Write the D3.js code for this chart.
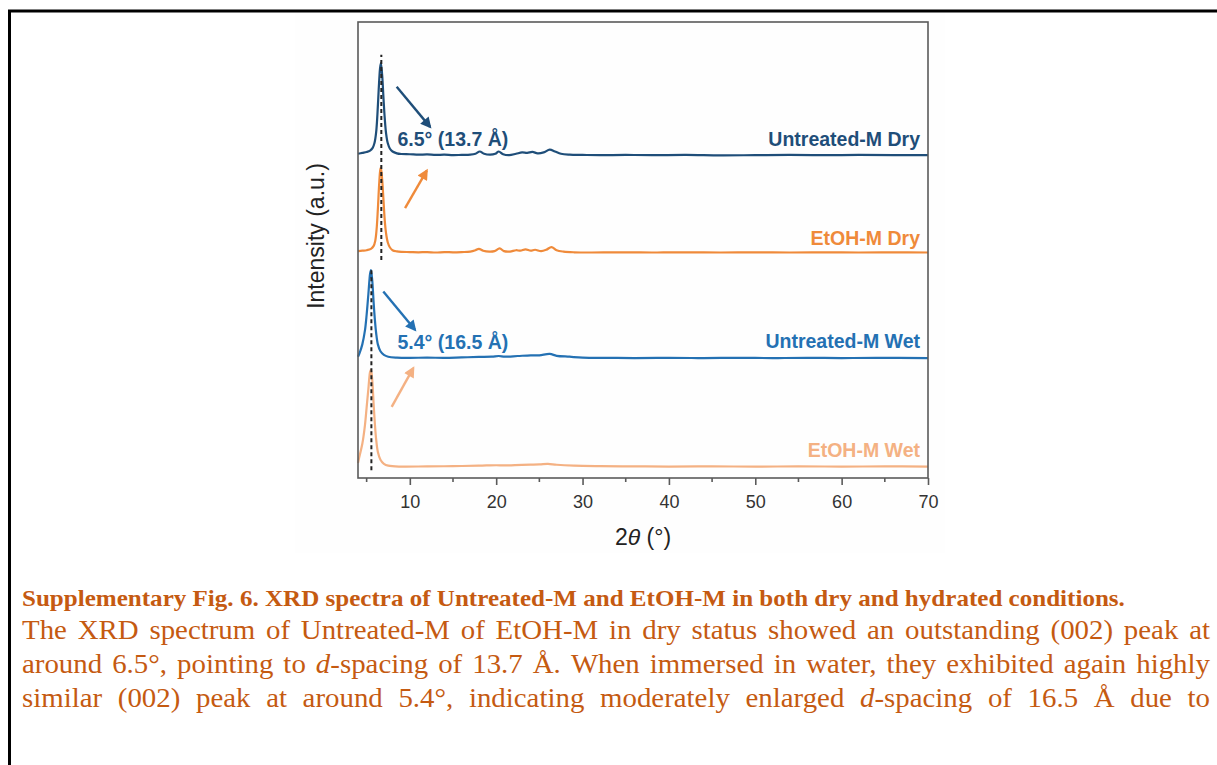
<!DOCTYPE html>
<html>
<head>
<meta charset="utf-8">
<script src="https://cdn.jsdelivr.net/npm/d3@7"></script>
<style>
  html, body { margin: 0; padding: 0; background: #fff; }
  svg { display: block; }
</style>
</head>
<body>
<script>
// 2theta (deg) vs intensity above each trace's own baseline (a.u.)
const untreatedDry = [[4.0,0.3],[4.5,0.5],[5.0,0.7],[5.4,1.0],[5.7,1.6],[5.9,2.6],[6.1,5.0],[6.25,9.0],[6.4,14.5],[6.55,19.0],[6.65,20.2],[6.8,17.5],[6.95,12.5],[7.1,8.0],[7.25,4.8],[7.45,2.6],[7.7,1.4],[8.0,0.8],[8.5,0.4],[9,0.25],[10,0.2],[11,0.1],[12,0.15],[13,0.05],[14,0.1],[15,0.0],[16,0.05],[17,0.1],[17.6,0.3],[18.1,0.8],[18.6,0.3],[19.3,0.1],[19.9,0.3],[20.3,0.8],[20.8,0.2],[21.5,0.0],[22.3,0.3],[23.0,0.6],[23.6,0.5],[24.2,0.7],[24.8,0.4],[25.5,0.6],[26.2,1.2],[26.8,0.8],[27.5,0.3],[28.5,0.1],[30,0.05],[32,0.0],[35,0.05],[38,0.0],[42,0.05],[46,-0.05],[50,0.0],[54,0.05],[58,0.0],[62,0.05],[66,0.0],[70,0.0]];
const etohDry = [[4.0,0.3],[4.5,0.4],[5.0,0.5],[5.5,0.8],[5.8,1.4],[6.0,2.6],[6.15,5.0],[6.3,9.5],[6.45,15.0],[6.57,18.0],[6.65,18.6],[6.8,16.0],[6.95,11.5],[7.1,7.0],[7.25,4.2],[7.45,2.2],[7.7,1.1],[8.0,0.5],[8.5,0.25],[9,0.15],[10,0.1],[11,0.05],[12,0.1],[13,0.0],[14,0.1],[15,0.05],[16,0.1],[17,0.2],[17.6,0.5],[18.0,0.8],[18.5,0.4],[19.2,0.2],[19.8,0.3],[20.4,0.9],[20.9,0.3],[21.6,0.2],[22.3,0.5],[22.8,0.4],[23.4,0.7],[24.0,0.4],[24.5,0.6],[25.2,0.3],[25.8,0.6],[26.4,1.2],[27,0.5],[27.8,0.2],[29,0.05],[31,0.0],[34,0.05],[38,0.0],[42,0.05],[46,0.0],[50,0.05],[54,0.0],[58,0.05],[62,0.0],[66,0.05],[70,0.0]];
const untreatedWet = [[4.0,0.3],[4.2,1.2],[4.5,3.0],[4.8,6.0],[5.0,9.5],[5.2,14.0],[5.4,18.5],[5.5,19.3],[5.65,17.0],[5.8,12.5],[5.95,8.5],[6.1,5.5],[6.3,3.0],[6.6,1.5],[7.0,0.7],[7.5,0.3],[8.5,0.1],[10,0.05],[12,0.1],[14,0.05],[16,0.15],[18,0.25],[19.5,0.3],[20.3,0.45],[21,0.3],[22.5,0.45],[24,0.6],[25,0.6],[26.2,0.9],[27,0.5],[28.5,0.3],[30,0.1],[33,0.05],[36,0.0],[40,0.05],[44,0.0],[48,0.05],[52,0.0],[56,0.05],[60,0.0],[64,0.05],[70,0.0]];
const etohWet = [[4.0,0.8],[4.2,2.5],[4.5,5.0],[4.8,9.0],[5.0,13.0],[5.2,17.0],[5.4,20.8],[5.5,21.2],[5.65,19.0],[5.8,14.0],[5.95,9.5],[6.1,6.0],[6.3,3.2],[6.6,1.5],[7.0,0.6],[7.5,0.2],[9,0.0],[12,0.05],[15,0.1],[18,0.2],[20,0.3],[21,0.25],[23,0.4],[25,0.5],[26,0.6],[27,0.4],[29,0.2],[32,0.1],[36,0.05],[40,0.0],[45,0.05],[50,0.0],[55,0.05],[60,0.0],[65,0.05],[70,0.0]];

const seriesNames = ["Untreated-M Dry", "EtOH-M Dry", "Untreated-M Wet", "EtOH-M Wet"];
const seriesOffsets = [70.8, 49.45, 26.3, 2.5];
const seriesColors = ["#1f4e79", "#ef8a3a", "#2471b3", "#f4b183"];

const xTicks = [10, 20, 30, 40, 50, 60, 70];
const xMinorTicks = [5, 15, 25, 35, 45, 55, 65];

// peak markers: dashed guide lines [2theta, from, to]
const guides = [[6.7, 47.8, 92.8], [5.55, 1.7, 45.6]];
// arrows [x1, y1, x2, y2, color index]
const arrows = [[8.48, 85.8, 12.34, 77.0, 0], [9.45, 59.2, 11.96, 67.4, 1], [6.93, 40.9, 10.6, 32.5, 2], [7.9, 15.6, 10.4, 24.1, 3]];
const peakLabels = [["6.5° (13.7 Å)", 0], ["5.4° (16.5 Å)", 2]];

const captionTitle = "Supplementary Fig. 6. XRD spectra of Untreated-M and EtOH-M in both dry and hydrated conditions.";
const captionLines = [
  "The XRD spectrum of Untreated-M of EtOH-M in dry status showed an outstanding (002) peak at",
  "around 6.5°, pointing to _d_-spacing of 13.7 Å. When immersed in water, they exhibited again highly",
  "similar (002) peak at around 5.4°, indicating moderately enlarged _d_-spacing of 16.5 Å due to"
];

const width = 1217, height = 765;
const svg = d3.select("body").append("svg")
  .attr("width", width)
  .attr("height", height);

// page frame
svg.append("rect").attr("x", 0).attr("y", 0).attr("width", width).attr("height", height).attr("fill", "#fff");
svg.append("rect")
  .attr("x", 295).attr("y", 12).attr("width", 650).attr("height", 541)
  .attr("fill", "#fefefe");
svg.append("path")
  .attr("d", `M${width},11 L9.5,11 L9.5,${height}`)
  .attr("fill", "none").attr("stroke", "#000").attr("stroke-width", 3);

const plot = {left: 358, right: 928, top: 22, bottom: 478};
const x = d3.scaleLinear().domain([4, 70]).range([plot.left, plot.right]);
const y = d3.scaleLinear().domain([0, 100]).range([plot.bottom, plot.top]);

const defs = svg.append("defs");
seriesColors.forEach((c, i) => {
  defs.append("marker")
    .attr("id", "head" + i)
    .attr("viewBox", "0 0 10 10")
    .attr("refX", 8).attr("refY", 5)
    .attr("markerWidth", 13).attr("markerHeight", 11)
    .attr("markerUnits", "userSpaceOnUse")
    .attr("orient", "auto")
    .append("path")
      .attr("d", "M0,0 L10,5 L0,10 Z")
      .attr("fill", c);
});

const g = svg.append("g");

// traces
const allSeries = [untreatedDry, etohDry, untreatedWet, etohWet];
allSeries.forEach((s, i) => {
  const line = d3.line()
    .x(d => x(d[0]))
    .y(d => y(d[1] + seriesOffsets[i]))
    .curve(d3.curveCatmullRom.alpha(0.5));
  g.append("path")
    .datum(s)
    .attr("fill", "none")
    .attr("stroke", seriesColors[i])
    .attr("stroke-width", 2.2)
    .attr("stroke-linejoin", "round")
    .attr("d", line);
});

// dashed guide lines
g.selectAll(".guide")
  .data(guides)
  .join("line")
    .attr("x1", d => x(d[0])).attr("x2", d => x(d[0]))
    .attr("y1", d => y(d[1])).attr("y2", d => y(d[2]))
    .attr("stroke", "#222")
    .attr("stroke-width", 2)
    .attr("stroke-dasharray", "4,3");

// arrows
g.selectAll(".arrow")
  .data(arrows)
  .join("line")
    .attr("x1", d => x(d[0])).attr("y1", d => y(d[1]))
    .attr("x2", d => x(d[2])).attr("y2", d => y(d[3]))
    .attr("stroke", d => seriesColors[d[4]])
    .attr("stroke-width", 2.4)
    .attr("marker-end", d => `url(#head${d[4]})`);

// peak labels
g.selectAll(".peak")
  .data(peakLabels)
  .join("text")
    .attr("x", 397.5)
    .attr("y", d => d[1] === 0 ? 146 : 349)
    .attr("font-family", "Liberation Sans, Arial, sans-serif")
    .attr("font-weight", "bold")
    .attr("font-size", 19.5)
    .attr("fill", d => seriesColors[d[1]])
    .text(d => d[0]);

// series labels
const labelBaselines = [146, 245, 348, 457];
g.selectAll(".slabel")
  .data(seriesNames)
  .join("text")
    .attr("x", 920)
    .attr("y", (d, i) => labelBaselines[i])
    .attr("text-anchor", "end")
    .attr("font-family", "Liberation Sans, Arial, sans-serif")
    .attr("font-weight", "bold")
    .attr("font-size", 19.5)
    .attr("fill", (d, i) => seriesColors[i])
    .text(d => d);

// frame
g.append("rect")
  .attr("x", plot.left).attr("y", plot.top)
  .attr("width", plot.right - plot.left).attr("height", plot.bottom - plot.top)
  .attr("fill", "none").attr("stroke", "#5a5a5a").attr("stroke-width", 1.6);

// x axis
const xAxis = g.append("g")
  .attr("transform", `translate(0,${plot.bottom})`)
  .call(d3.axisBottom(x).tickValues(xTicks).tickSize(7).tickPadding(10).tickFormat(d3.format("d")));
xAxis.select(".domain").remove();
xAxis.selectAll("line").attr("stroke", "#5a5a5a").attr("stroke-width", 1.6);
xAxis.selectAll("text")
  .attr("font-family", "Liberation Sans, Arial, sans-serif")
  .attr("font-size", 18)
  .attr("fill", "#333");
g.append("g")
  .attr("transform", `translate(0,${plot.bottom})`)
  .selectAll("line")
  .data(xMinorTicks)
  .join("line")
    .attr("x1", d => x(d)).attr("x2", d => x(d))
    .attr("y1", 0).attr("y2", 4)
    .attr("stroke", "#5a5a5a").attr("stroke-width", 1.6);

// axis titles
const xt = g.append("text")
  .attr("x", 643).attr("y", 545)
  .attr("text-anchor", "middle")
  .attr("font-family", "Liberation Sans, Arial, sans-serif")
  .attr("font-size", 23)
  .attr("fill", "#222");
xt.append("tspan").text("2");
xt.append("tspan").attr("font-style", "italic").text("θ");
xt.append("tspan").text(" (°)");

g.append("text")
  .attr("transform", "translate(324,236) rotate(-90)")
  .attr("text-anchor", "middle")
  .attr("font-family", "Liberation Sans, Arial, sans-serif")
  .attr("font-size", 23)
  .attr("fill", "#222")
  .text("Intensity (a.u.)");

// caption (the source page is slightly stretched horizontally)
const capColor = "#c55a11";
const capStretch = 1.09;
svg.append("text")
  .attr("transform", `translate(22,606) scale(${capStretch},1)`)
  .attr("font-family", "Liberation Serif, Times New Roman, serif")
  .attr("font-weight", "bold")
  .attr("font-size", 23)
  .attr("fill", capColor)
  .text(captionTitle);

// justified body lines, words separated, _x_ marks italic
const capLeft = 22, capRight = 1210;
const capBaselines = [639, 673, 707];
captionLines.forEach((ln, li) => {
  const row = svg.append("g")
    .attr("transform", `translate(${capLeft},${capBaselines[li]}) scale(${capStretch},1)`);
  const words = ln.split(" ");
  const nodes = words.map(w => {
    const t = row.append("text")
      .attr("font-family", "Liberation Serif, Times New Roman, serif")
      .attr("font-size", 26.5)
      .attr("fill", capColor);
    w.split("_").forEach((part, pi) => {
      if (part === "") return;
      t.append("tspan").attr("font-style", pi % 2 === 1 ? "italic" : "normal").text(part);
    });
    return t;
  });
  const widths = nodes.map(n => n.node().getComputedTextLength());
  const total = d3.sum(widths);
  const gap = ((capRight - capLeft) / capStretch - total) / (words.length - 1);
  let cx = 0;
  nodes.forEach((n, i) => {
    n.attr("x", cx);
    cx += widths[i] + gap;
  });
});
</script>
</body>
</html>
